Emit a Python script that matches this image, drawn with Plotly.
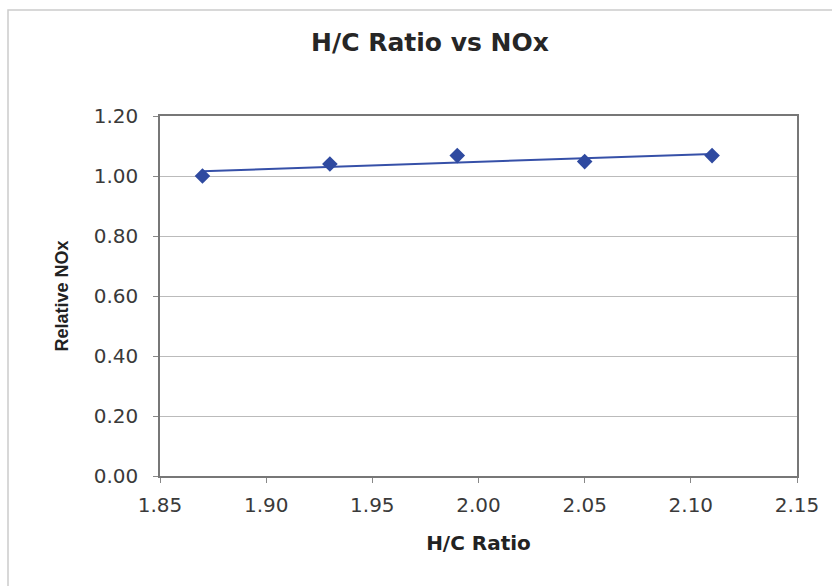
import numpy as np
import plotly.graph_objects as go

hc_ratio = [1.87, 1.93, 1.99, 2.05, 2.11]
relative_nox = [1.00, 1.04, 1.068, 1.048, 1.068]
x_ticks = [1.85, 1.90, 1.95, 2.00, 2.05, 2.10, 2.15]
y_ticks = [0.0, 0.2, 0.4, 0.6, 0.8, 1.0, 1.2]

# linear trendline (least squares, as Excel's trendline)
slope, intercept = np.polyfit(hc_ratio, relative_nox, 1)
trend_x = [hc_ratio[0], hc_ratio[-1]]
trend_y = [slope * v + intercept for v in trend_x]

fig = go.Figure()
fig.add_trace(go.Scatter(x=trend_x, y=trend_y, mode="lines",
                         line=dict(color="#3650a8", width=2), showlegend=False))
fig.add_trace(go.Scatter(x=hc_ratio, y=relative_nox, mode="markers",
                         marker=dict(symbol="diamond", size=12, color="#2f4aa0"),
                         showlegend=False))

tick_font = dict(family="DejaVu Sans, sans-serif", size=20, color="#3a3a3a")
fig.update_layout(
    width=832, height=586,
    margin=dict(l=160, r=35, t=116, b=110),
    paper_bgcolor="white", plot_bgcolor="white",
    font=dict(family="DejaVu Sans, sans-serif", color="#333333"),
    title=dict(text="<b>H/C Ratio vs NOx</b>", x=430 / 832, xref="container", xanchor="center",
               y=1 - 42 / 586, yref="container", yanchor="middle",
               font=dict(family="DejaVu Sans, sans-serif", size=25, color="#262626")),
    xaxis=dict(range=[1.85, 2.15], tickvals=x_ticks,
               ticktext=[f"{v:.2f}" for v in x_ticks],
               showgrid=False, zeroline=False,
               showline=True, linecolor="#777777", linewidth=1.5, mirror=True,
               ticks="outside", ticklen=5, tickcolor="#888888",
               ticklabelstandoff=5,
               tickfont=tick_font,
               title=dict(text="<b>H/C Ratio</b>",
                          font=dict(family="DejaVu Sans, sans-serif", size=20, color="#222222"),
                          standoff=20)),
    yaxis=dict(range=[0, 1.2], tickvals=y_ticks,
               ticktext=[f"{v:.2f}" for v in y_ticks],
               showgrid=True, gridcolor="#bbbbbb", gridwidth=1, zeroline=False,
               showline=True, linecolor="#777777", linewidth=1.5, mirror=True,
               ticks="outside", ticklen=5, tickcolor="#888888",
               ticklabelstandoff=11,
               tickfont=tick_font,
               title=dict(text="<b>Relative NOx</b>",
                          font=dict(family="Liberation Sans, Arial, sans-serif", size=18, color="#222222"),
                          standoff=20)),
    shapes=[dict(type="rect", xref="paper", yref="paper",
                 x0=(8 - 160) / 637, x1=1.1, y0=-0.5, y1=(476 - 10) / 360,
                 line=dict(color="#cccccc", width=1.5), layer="below")],
)

fig.write_html("out.html")
